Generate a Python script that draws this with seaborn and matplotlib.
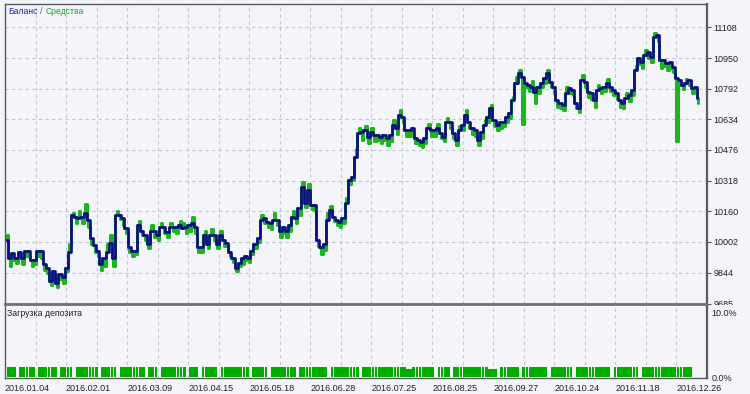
import matplotlib
matplotlib.use("Agg")
import matplotlib.pyplot as plt
from matplotlib.transforms import Bbox
import numpy as np
import pandas as pd
import seaborn as sns

# ---------------- data ----------------
balance_q1 = [10010, 9917, 9943, 9922, 9948, 9922, 9958, 9958, 9907, 9907,
              9958, 9958, 9891, 9870, 9803, 9855, 9793, 9839, 9819, 9870,
              9948, 10139, 10129, 10124, 10129, 10149, 10113, 10020, 9984, 9958,
              9891, 9917, 9948, 9999, 9917, 10139, 10139, 10124, 10072, 9974,
              9958, 9958, 10087, 10061, 10036, 9994, 10061, 10061, 10036, 10077,
              10077, 10051, 10077, 10077, 10077, 10087]
equity_q1 = [10040, 9880, 9910, 9895, 9920, 9890, 9930, 9925, 9880, 9890,
             9930, 9920, 9860, 9840, 9780, 9830, 9770, 9810, 9790, 9850,
             9990, 10150, 10100, 10160, 10100, 10200, 10080, 9990, 9950, 9930,
             9860, 9880, 9990, 10040, 9880, 10160, 10120, 10090, 10050, 9950,
             9930, 9940, 10110, 10040, 10010, 9970, 10090, 10030, 10010, 10100,
             10050, 10030, 10100, 10060, 10050, 10110]

balance_q2 = [10072, 10077, 10087, 10098, 10077, 9974, 9974, 10036, 9994, 10036,
              10036, 9994, 10036, 10010, 9999, 9948, 9922, 9870, 9896, 9917,
              9932, 9922, 9958, 9994, 10025, 10113, 10124, 10103, 10098, 10113,
              10113, 10061, 10077, 10061, 10087, 10129, 10124, 10175, 10284, 10201,
              10268, 10191, 10191, 10010, 9974, 9994, 10113, 10165, 10129, 10113,
              10103, 10124, 10201, 10320, 10335, 10438]
equity_q2 = [10100, 10050, 10060, 10130, 10050, 9950, 9950, 10060, 9970, 10070,
             10010, 9970, 10060, 9980, 9980, 9930, 9900, 9850, 9880, 9890,
             9910, 9900, 9940, 9970, 10000, 10140, 10100, 10080, 10070, 10150,
             10090, 10030, 10050, 10030, 10060, 10160, 10100, 10140, 10310, 10180,
             10300, 10170, 10160, 9980, 9940, 9960, 10150, 10190, 10110, 10090,
             10080, 10100, 10230, 10300, 10320, 10480]

balance_q3 = [10562, 10567, 10578, 10542, 10567, 10552, 10552, 10542, 10552, 10537,
              10552, 10603, 10588, 10655, 10645, 10578, 10578, 10588, 10537, 10526,
              10516, 10537, 10588, 10578, 10578, 10588, 10562, 10542, 10619, 10619,
              10562, 10526, 10578, 10603, 10655, 10619, 10588, 10578, 10526, 10567,
              10603, 10645, 10691, 10629, 10603, 10619, 10619, 10645, 10666, 10733,
              10821, 10872, 10851, 10821, 10810]
equity_q3 = [10590, 10530, 10600, 10510, 10590, 10520, 10530, 10510, 10530, 10500,
             10520, 10630, 10560, 10680, 10620, 10550, 10550, 10560, 10510, 10500,
             10490, 10510, 10610, 10550, 10550, 10610, 10540, 10520, 10640, 10590,
             10540, 10500, 10600, 10580, 10680, 10590, 10560, 10550, 10500, 10540,
             10630, 10620, 10710, 10600, 10580, 10590, 10600, 10620, 10640, 10750,
             10850, 10890, 10610, 10800, 10780]

balance_q4 = [10800, 10774, 10800, 10821, 10846, 10872, 10826, 10800, 10733, 10717,
              10707, 10769, 10795, 10784, 10717, 10691, 10836, 10826, 10774, 10769,
              10733, 10784, 10795, 10800, 10821, 10800, 10784, 10769, 10733, 10717,
              10743, 10759, 10784, 10888, 10950, 10929, 10965, 10980, 10955, 11058,
              11068, 10939, 10939, 10924, 10929, 10903, 10846, 10836, 10810, 10821,
              10836, 10795, 10800, 10743]
equity_q4 = [10830, 10720, 10770, 10800, 10820, 10890, 10800, 10770, 10700, 10690,
             10680, 10800, 10770, 10760, 10690, 10670, 10860, 10800, 10750, 10740,
             10700, 10810, 10770, 10780, 10840, 10780, 10760, 10740, 10700, 10690,
             10770, 10730, 10760, 10910, 10920, 10900, 10990, 10950, 10930, 11080,
             11040, 10900, 10910, 10890, 10900, 10880, 10520, 10810, 10790, 10840,
             10810, 10770, 10780, 10720]

deposit_load = [
    1.5, 1.5, 1.5, 1.5, 0, 1.5, 1.5, 1.5, 1.5, 1.5, 0, 1.5, 1.5, 1.5, 1.5, 1.5, 1.5, 0, 1.5, 1.5,
    1.5, 1.5, 0, 1.5, 1.5, 1.5, 1.5, 1.5, 1.5, 1.5, 0, 1.5, 1.5, 1.5, 1.5, 1.5, 0, 1.5, 1.5, 1.5,
    1.5, 1.5, 1.5, 1.5, 1.5, 0, 1.5, 1.5, 1.5, 0, 1.5, 1.5, 1.5, 1.5, 1.5, 1.5, 1.5, 1.5, 0, 1.5,
    1.5, 1.5, 0, 1.5, 1.5, 1.5, 1.5, 1.5, 0, 1.5, 1.5, 1.5, 1.5, 1.5, 1.5, 1.5, 1.5, 1.5, 0, 1.5,
    1.5, 1.5, 1.5, 1.5, 0, 1.5, 1.5, 1.5, 1.5, 1.5, 1.5, 1.5, 1.5, 0, 1.5, 1.5, 1.5, 1.5, 1.5, 1.5,
    1.5, 1.5, 1.5, 0, 1.5, 1.5, 1.5, 1.5, 1.5, 1.5, 1.5, 1.5, 1.5, 0, 1.5, 1.5, 1.5, 1.5, 1.5, 1.5,
    1.5, 1.5, 1.5, 1.5, 1.5, 1.5, 1.5, 1.5, 1.3, 1.3, 1.5, 1.5, 1.5, 1.5, 1.5, 1.5, 1.5, 0, 1.5, 1.5,
    1.5, 1.5, 0, 1.5, 1.5, 1.5, 1.5, 1.5, 1.5, 1.5, 1.5, 1.5, 1.5, 1.5, 1.3, 1.3, 1.3, 0, 1.5, 1.5,
    1.5, 1.5, 1.5, 1.5, 0, 1.5, 1.5, 1.5, 1.5, 1.5, 1.5, 1.5, 1.5, 0, 1.5, 1.5, 1.5, 1.5, 1.5, 1.5,
    1.5, 0, 1.5, 1.5, 1.5, 1.5, 1.5, 1.5, 1.5, 1.5, 1.5, 1.5, 1.5, 0, 1.5, 1.5, 1.5, 1.5, 1.5, 1.5,
    1.5, 1.5, 0, 1.5, 1.5, 1.5, 1.5, 1.5, 1.5, 1.5, 1.5, 1.5, 1.5, 1.5, 1.5, 1.5, 1.5, 1.5, 1.5, 0, 0]

date_labels = ["2016.01.04", "2016.02.01", "2016.03.09", "2016.04.15", "2016.05.18",
               "2016.06.28", "2016.07.25", "2016.08.25", "2016.09.27", "2016.10.24",
               "2016.11.18", "2016.12.26"]
balance_ticks = [9685, 9844, 10002, 10160, 10318, 10476, 10634, 10792, 10950, 11108]
load_ticks = [0, 10]
load_tick_labels = ["0.0%", "10.0%"]

# ---------------- build frames ----------------
balance = balance_q1 + balance_q2 + balance_q3 + balance_q4
equity = equity_q1 + equity_q2 + equity_q3 + equity_q4
n = len(balance)
trade = np.arange(n)

bal_df = pd.DataFrame({"trade": trade, "value": balance})
eq_x, eq_y = [], []
for i in range(n):
    eq_x += [i, i + 0.5]
    eq_y += [balance[i], equity[i]]
eq_df = pd.DataFrame({"trade": eq_x, "value": eq_y})
load_df = pd.DataFrame({"trade": trade, "load": deposit_load})

# ---------------- style ----------------
BG = "#f4f5fb"
GRID = "#c6c6ce"
SPINE = "#5a5a60"
NAVY = "#0c0c88"
GREEN = "#1db51d"

sns.set_style("white")
plt.rcParams["font.family"] = ["Liberation Sans", "DejaVu Sans"]
plt.rcParams["font.size"] = 6.3

W, H = 750, 394
fig = plt.figure(figsize=(W / 100, H / 100), dpi=100, facecolor=BG)

def frac(x0, y0, x1, y1):
    return [x0 / W, 1 - y1 / H, (x1 - x0) / W, (y1 - y0) / H]

ax = fig.add_axes(frac(4.5, 4, 707, 303.5))
ax2 = fig.add_axes(frac(4.5, 305, 707, 378))
for a in (ax, ax2):
    a.set_facecolor(BG)

px_per_trade = (702 - 5) / (n - 1)
x_left = -0.5 / px_per_trade
x_right = (707 - 5) / px_per_trade

# equity (green) first, balance (navy) on top
sns.lineplot(data=eq_df, x="trade", y="value", ax=ax, color=GREEN, lw=2.2,
             drawstyle="steps-post", sort=False, estimator=None)
sns.lineplot(data=bal_df, x="trade", y="value", ax=ax, color=NAVY, lw=1.9,
             drawstyle="steps-post", sort=False, estimator=None)

sns.barplot(data=load_df, x="trade", y="load", ax=ax2, color="#00ad00",
            native_scale=True, width=0.88, errorbar=None, saturation=1,
            edgecolor="none", linewidth=0)

# x ticks / grid
major_step = 61.5 / px_per_trade
major = [k * major_step for k in range(len(date_labels))]
minor = [k * major_step + major_step / 2 for k in range(len(date_labels))]
for a in (ax, ax2):
    a.set_xlim(x_left, x_right)
    a.set_xticks(major)
    a.set_xticks(minor, minor=True)
    a.grid(True, axis="x", which="both", color=GRID, ls=(0, (3, 3)), lw=0.8)
    a.set_xlabel("")
    a.set_ylabel("")
    for s in a.spines.values():
        s.set_color(SPINE)
        s.set_linewidth(1.0)
    a.spines["right"].set_linewidth(1.6)
    a.set_axisbelow(True)

ax.set_ylim(9685, 11249 - 5.163 * 4)
ax.set_yticks(balance_ticks)
ax.set_yticklabels([str(v) for v in balance_ticks])
ax.grid(True, axis="y", color=GRID, ls=(0, (3, 3)), lw=0.8)
ax.yaxis.tick_right()
ax.tick_params(axis="y", length=3, width=0.8, color=SPINE, pad=1.5, labelsize=6.5,
               labelcolor="#222222")
ax.tick_params(axis="x", which="both", length=0, labelbottom=False)
ax.spines["bottom"].set_linewidth(1.3)
ax.spines["bottom"].set_color("#707078")

ax2.set_ylim(-0.15, 11.08)
ax2.set_yticks(load_ticks)
ax2.set_yticklabels(load_tick_labels)
ax2.yaxis.tick_right()
ax2.tick_params(axis="y", length=0, pad=3, labelsize=6.5, labelcolor="#222222")
ax2.set_xticklabels(date_labels)
ax2.tick_params(axis="x", which="major", length=3, width=0.8, color=SPINE, pad=1.5,
                labelsize=6.5, labelcolor="#222222")
ax2.tick_params(axis="x", which="minor", length=0)
for lbl in ax2.get_xticklabels():
    lbl.set_horizontalalignment("left")
ax2.spines["top"].set_linewidth(1.3)
ax2.spines["top"].set_color("#707078")

# clip the lowest balance label at the panel separator like the reference
fig.canvas.draw()
clip = Bbox.from_extents(0, H - 305, W, H)
for lbl in ax.get_yticklabels():
    lbl.set_clip_box(clip)
    lbl.set_clip_on(True)

# legend texts
ty = 1 - 12 / H
fig.text(8 / W, ty, "Баланс", color="#2323a0", va="center", ha="left", fontsize=6.2)
fig.text(40 / W, ty, "/", color="#666666", va="center", ha="left", fontsize=6.5)
fig.text(46 / W, ty, "Средства", color="#1ea81e", va="center", ha="left", fontsize=6.2)
fig.text(7 / W, 1 - 314 / H, "Загрузка депозита", color="#222222", va="center",
         ha="left", fontsize=6.3)

fig.savefig("out.png", dpi=100, facecolor=BG)
